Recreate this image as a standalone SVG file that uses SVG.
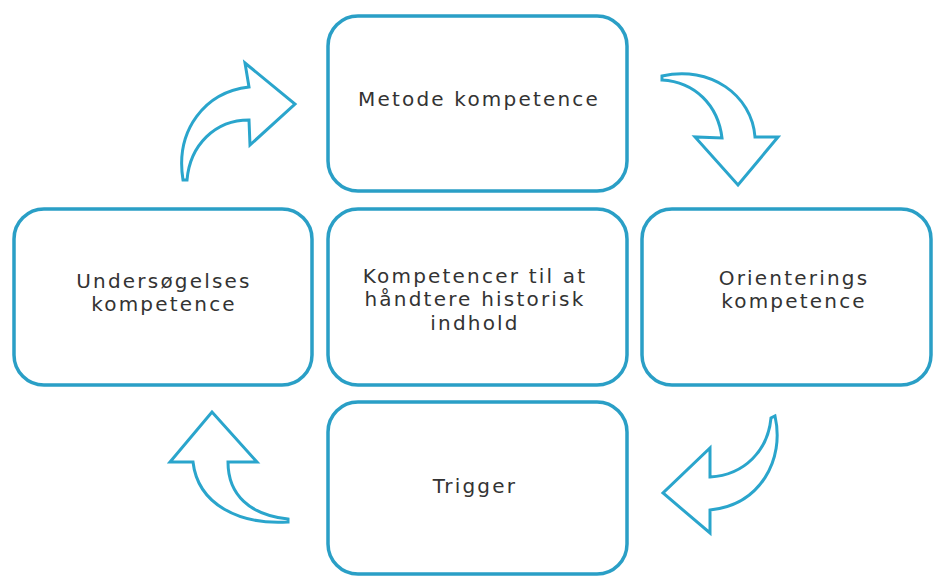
<svg xmlns="http://www.w3.org/2000/svg" width="933" height="576" viewBox="0 0 933 576">
<style>
.box{fill:#fff;stroke:#2a9fc6;stroke-width:3.5}
.arr{fill:#fff;stroke:#2aa5cc;stroke-width:3;stroke-linejoin:miter}
.t{font-family:"DejaVu Sans","Liberation Sans",sans-serif;font-size:20px;fill:#333;text-anchor:middle;letter-spacing:2.2px}
</style>
<rect width="933" height="576" fill="#fff"/>
<g id="metode"><rect class="box" x="328" y="16" width="299" height="175" rx="30"/><text class="t" x="479" y="106">Metode kompetence</text></g>
<g id="undersoegelses"><rect class="box" x="14" y="209" width="298" height="176" rx="30"/><text class="t" x="164" y="288">Undersøgelses</text><text class="t" x="164" y="311">kompetence</text></g>
<g id="center"><rect class="box" x="328" y="209" width="299" height="176" rx="30"/><text class="t" x="475" y="283">Kompetencer til at</text><text class="t" x="475" y="306">håndtere historisk</text><text class="t" x="475" y="330">indhold</text></g>
<g id="orienterings"><rect class="box" x="642" y="209" width="289" height="176" rx="30"/><text class="t" x="794" y="285">Orienterings</text><text class="t" x="794" y="308">kompetence</text></g>
<g id="trigger"><rect class="box" x="328" y="402" width="299" height="172" rx="30"/><text class="t" x="475" y="493">Trigger</text></g>
<g id="connectors">
<path class="arr" d="M183,180 C175,130 205,92 249,87 L245,63 L295,104 L250,145 L249,120 C215,120 190,145 187,180 Z"/>
<path class="arr" d="M662,76 C710,65 752,95 755,137 L778,137 L738,185 L695,137 L722,138 C718,105 695,82 662,80 Z"/>
<path class="arr" d="M775,416 C785,460 760,505 710,510 L710,533 L663,493 L710,448 L710,477 C745,475 768,450 771,418 Z"/>
<path class="arr" d="M288,522 C240,525 198,505 193,462 L170,462 L212,412 L257,462 L228,462 C228,495 250,515 288,519 Z"/>
</g>
</svg>
